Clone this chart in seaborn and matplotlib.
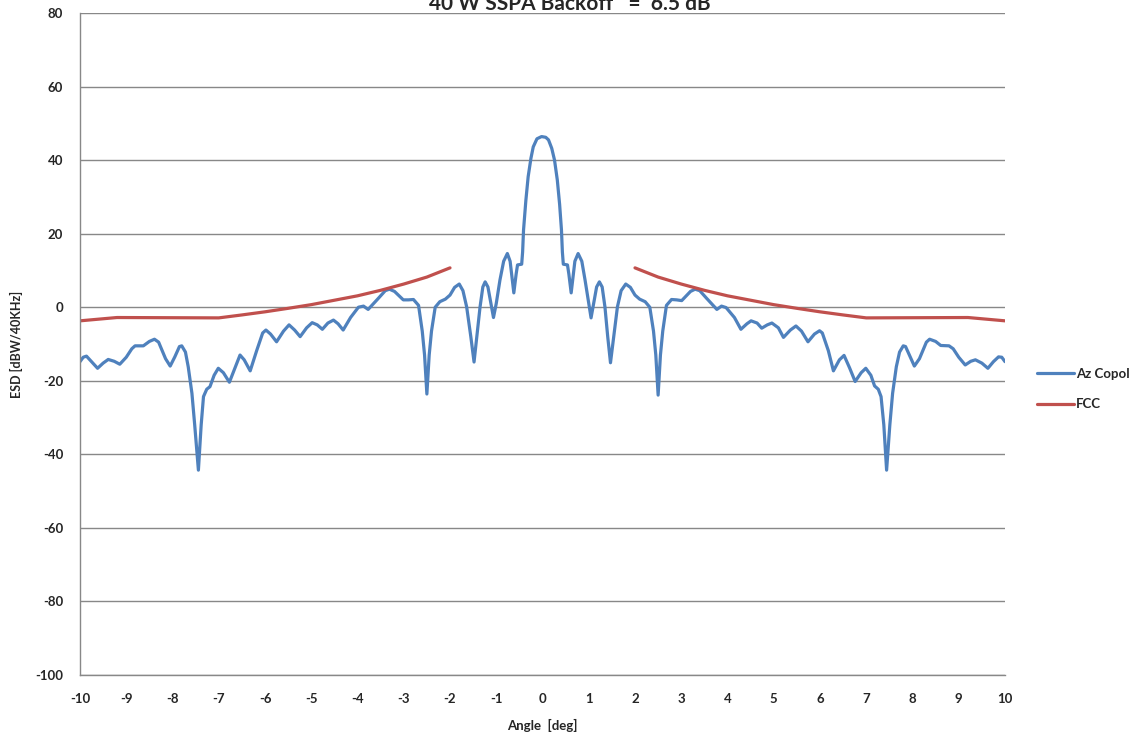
import numpy as np
import pandas as pd
import matplotlib
matplotlib.use('Agg')
import matplotlib.pyplot as plt
import seaborn as sns

# --- Data ---
# Az Copol, left half (-10 .. 0 deg)
angle_left = [-10.0, -9.93, -9.86, -9.75, -9.62, -9.50, -9.39, -9.26, -9.14, -9.00,
              -8.88, -8.81, -8.63, -8.50, -8.39, -8.30, -8.15, -8.05, -7.95, -7.85,
              -7.80, -7.72, -7.66, -7.58, -7.52, -7.44, -7.38, -7.33, -7.26, -7.19,
              -7.10, -7.01, -6.90, -6.77, -6.65, -6.54, -6.45, -6.32, -6.18, -6.05,
              -5.98, -5.88, -5.75, -5.60, -5.48, -5.36, -5.24, -5.10, -4.98, -4.87,
              -4.76, -4.64, -4.52, -4.42, -4.31, -4.15, -3.98, -3.87, -3.77, -3.55,
              -3.40, -3.31, -3.20, -3.01, -2.90, -2.79, -2.68, -2.60, -2.55, -2.50,
              -2.45, -2.40, -2.32, -2.22, -2.10, -2.00, -1.90, -1.80, -1.72, -1.64,
              -1.55, -1.48, -1.42, -1.35, -1.29, -1.24, -1.18, -1.06, -1.00, -0.92,
              -0.84, -0.76, -0.70, -0.62, -0.57, -0.54, -0.45, -0.43, -0.41, -0.36,
              -0.31, -0.25, -0.20, -0.12, -0.02]
az_left = [-14.8, -13.6, -13.3, -14.8, -16.6, -15.2, -14.2, -14.7, -15.5, -13.6,
           -11.3, -10.5, -10.5, -9.3, -8.7, -9.5, -14.0, -16.0, -13.5, -10.7,
           -10.5, -12.2, -16.2, -23.4, -32.0, -44.3, -32.0, -24.3, -22.3, -21.6,
           -18.5, -16.6, -17.8, -20.4, -16.5, -13.0, -14.3, -17.3, -11.8, -7.0,
           -6.2, -7.3, -9.4, -6.5, -4.8, -6.2, -8.0, -5.6, -4.2, -4.8,
           -6.0, -4.3, -3.5, -4.5, -6.2, -2.8, 0.0, 0.3, -0.6, 2.4,
           4.5, 4.9, 4.3, 2.0, 2.0, 2.1, 0.5, -6.5, -13.0, -23.6,
           -13.0, -6.5, 0.0, 1.5, 2.2, 3.3, 5.4, 6.3, 4.5, 0.1,
           -8.0, -14.9, -8.0, 0.1, 5.5, 6.9, 5.5, -2.8, 1.0, 7.4,
           12.5, 14.6, 12.5, 3.9, 9.0, 11.5, 11.7, 15.0, 21.0, 29.0,
           35.5, 40.5, 43.6, 45.8, 46.4]

# Az Copol, right half (0 .. 10 deg)
angle_right = [0.07, 0.13, 0.20, 0.26, 0.32, 0.37, 0.41, 0.43, 0.45, 0.54,
               0.57, 0.62, 0.70, 0.77, 0.85, 0.92, 1.00, 1.05, 1.17, 1.23,
               1.29, 1.35, 1.41, 1.47, 1.54, 1.62, 1.70, 1.80, 1.90, 2.00,
               2.10, 2.22, 2.32, 2.40, 2.45, 2.50, 2.55, 2.60, 2.68, 2.79,
               2.90, 3.01, 3.20, 3.30, 3.40, 3.55, 3.77, 3.87, 3.97, 4.15,
               4.29, 4.42, 4.51, 4.64, 4.74, 4.86, 4.96, 5.10, 5.21, 5.36,
               5.48, 5.60, 5.74, 5.88, 5.99, 6.05, 6.18, 6.29, 6.42, 6.52,
               6.64, 6.76, 6.89, 6.99, 7.10, 7.18, 7.26, 7.32, 7.38, 7.44,
               7.51, 7.57, 7.65, 7.72, 7.80, 7.85, 7.95, 8.04, 8.15, 8.30,
               8.37, 8.50, 8.61, 8.79, 8.88, 9.00, 9.14, 9.26, 9.36, 9.50,
               9.63, 9.75, 9.86, 9.93, 10.0]
az_right = [46.2, 45.5, 43.2, 40.0, 34.6, 28.0, 21.0, 15.0, 11.7, 11.5,
            9.0, 3.9, 12.5, 14.6, 12.5, 7.4, 1.0, -2.9, 5.5, 6.9,
            5.5, 0.1, -8.0, -15.1, -8.0, 0.1, 4.5, 6.3, 5.4, 3.3,
            2.2, 1.5, 0.0, -6.5, -13.0, -23.9, -13.0, -6.5, 0.5, 2.1,
            2.0, 1.8, 4.3, 4.9, 4.5, 2.4, -0.6, 0.3, -0.1, -2.8,
            -6.0, -4.5, -3.7, -4.3, -5.7, -4.8, -4.3, -5.6, -8.2, -6.2,
            -5.1, -6.5, -9.4, -7.3, -6.4, -7.0, -11.8, -17.3, -14.3, -13.1,
            -16.5, -20.2, -17.8, -16.6, -18.5, -21.4, -22.3, -24.3, -32.0, -44.3,
            -32.0, -23.4, -16.2, -12.2, -10.5, -10.7, -13.5, -16.0, -14.0, -9.5,
            -8.7, -9.3, -10.4, -10.5, -11.3, -13.6, -15.7, -14.7, -14.3, -15.2,
            -16.6, -14.8, -13.5, -13.6, -14.8]

# FCC mask, two separate segments
fcc_left_angle = [-10, -9.2, -7, -6.5, -6, -5.5, -5, -4.5, -4, -3.5, -3, -2.5, -2]
fcc_left = [-3.7, -2.8, -2.9, -2.1, -1.25, -0.3, 0.7, 1.9, 3.1, 4.6, 6.3, 8.2, 10.7]
fcc_right_angle = [2, 2.5, 3, 3.5, 4, 4.5, 5, 5.5, 6, 6.5, 7, 9.2, 10]
fcc_right = [10.7, 8.2, 6.3, 4.6, 3.1, 1.9, 0.7, -0.3, -1.25, -2.1, -2.9, -2.8, -3.7]

y_ticks = list(range(-100, 81, 20))
x_ticks = list(range(-10, 11))

BLUE = '#4F81BD'
RED = '#C0504D'

sns.set_style('white')
plt.rcParams['font.family'] = ['Lato', 'DejaVu Sans']
plt.rcParams['axes.unicode_minus'] = False

fig = plt.figure(figsize=(11.46, 7.38), dpi=100)
ax = fig.add_axes([80 / 1146, 1 - 675 / 738, 925 / 1146, 662 / 738])

df_az = pd.DataFrame({'angle': angle_left + angle_right,
                      'esd': az_left + az_right})
sns.lineplot(data=df_az, x='angle', y='esd', color=BLUE, linewidth=2.3,
             label='Az Copol', ax=ax, sort=False)
sns.lineplot(x=fcc_left_angle, y=fcc_left, color=RED, linewidth=2.3,
             label='FCC', ax=ax, sort=False)
sns.lineplot(x=fcc_right_angle, y=fcc_right, color=RED, linewidth=2.3,
             ax=ax, sort=False, legend=False)

ax.set_xlim(-10, 10)
ax.set_ylim(-100, 80)
ax.set_xticks(x_ticks)
ax.set_yticks(y_ticks)
ax.yaxis.grid(True, color='#888888', linewidth=1.0)
ax.xaxis.grid(False)
ax.set_axisbelow(True)
for s in ['top', 'right']:
    ax.spines[s].set_visible(False)
for s in ['left', 'bottom']:
    ax.spines[s].set_color('#888888')
    ax.spines[s].set_linewidth(1.0)
ax.tick_params(axis='x', length=0, labelsize=9.5, pad=13)
ax.tick_params(axis='y', length=0, labelsize=9.5, pad=12)
for lbl in ax.get_xticklabels() + ax.get_yticklabels():
    lbl.set_fontweight('bold')

ax.set_xlabel('Angle  [deg]', fontsize=9.5, fontweight='bold', labelpad=10)
ax.set_ylabel('ESD [dBW/40KHz]', fontsize=9, fontweight='bold', labelpad=9)

fig.text(570 / 1146, 1 - 10 / 738, '40 W SSPA Backoff   =  6.5 dB',
         ha='center', va='baseline', fontsize=15, fontweight='bold')

ax.legend(loc='center left', bbox_to_anchor=(1.027, 0.432), frameon=False,
          prop={'size': 9.5, 'weight': 'bold'}, handlelength=2.8,
          handletextpad=0.2, labelspacing=1.4, borderpad=0)

fig.savefig('out.png', dpi=100)
